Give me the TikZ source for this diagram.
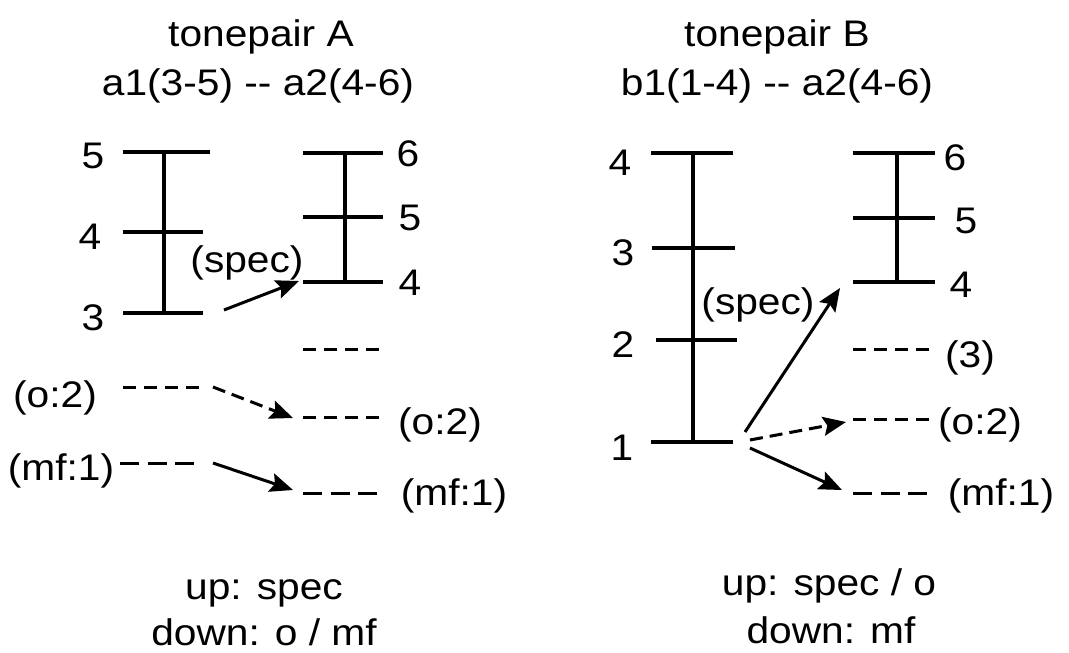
\documentclass[tikz,border=0pt]{standalone}
\usepackage{fontspec}
\setmainfont{Liberation Sans}
\usetikzlibrary{arrows.meta}
\newcommand\sx[1]{\scalebox{1.1}[1]{#1}}
\tikzset{
  lbl/.style={font=\fontsize{37}{44}\selectfont, anchor=base, inner sep=0pt},
  lvl/.style={line width=3.5pt},
  dlvl/.style={line width=3pt, dash pattern=on 13pt off 8pt},
  mlvl/.style={line width=3pt, dash pattern=on 19pt off 8.5pt},
  arr/.style={line width=3pt, -{Stealth[length=23pt,width=19pt,inset=4pt]}},
  darr/.style={arr, dash pattern=on 13pt off 7pt},
}
\begin{document}
\begin{tikzpicture}[x=1pt,y=-1pt]
\useasboundingbox (0,0) rectangle (1069,653);
% titles
\node[lbl] (tA) at (261,46) {\sx{tonepair A}};
\node[lbl] (sA) at (258,95) {\sx{a1(3-5) -{}- a2(4-6)}};
\node[lbl] (tB) at (777,46) {\sx{tonepair B}};
\node[lbl] (sB) at (777,95) {\sx{b1(1-4) -{}- a2(4-6)}};
% bottom
\node[lbl] (uA) at (264,599) {\sx{up: spec}};
\node[lbl] (dA) at (264,645) {\sx{down: o / mf}};
\node[lbl] (uB) at (829,595) {\sx{up: spec / o}};
\node[lbl] (dB) at (831,643) {\sx{down: mf}};

% ---------- tonepair A ----------
% a1
\coordinate (a1t1) at (123,152); \coordinate (a1t2) at (210,152);
\coordinate (a1m1) at (123,232); \coordinate (a1m2) at (203,232);
\coordinate (a1b1) at (123,313); \coordinate (a1b2) at (203,313);
\coordinate (a1vt) at (164,152); \coordinate (a1vb) at (164,313);
\draw[lvl] (a1t1) -- (a1t2);
\draw[lvl] (a1m1) -- (a1m2);
\draw[lvl] (a1b1) -- (a1b2);
\draw[lvl] (a1vt) -- (a1vb);
\node[lbl] (a1l5) at (93,168) {\sx{5}};
\node[lbl] (a1l4) at (90,249) {\sx{4}};
\node[lbl] (a1l3) at (93,330) {\sx{3}};
% a2
\coordinate (a2t1) at (303,153); \coordinate (a2t2) at (383,153);
\coordinate (a2m1) at (303,217); \coordinate (a2m2) at (383,217);
\coordinate (a2b1) at (303,282); \coordinate (a2b2) at (383,282);
\coordinate (a2vt) at (345,153); \coordinate (a2vb) at (345,282);
\draw[lvl] (a2t1) -- (a2t2);
\draw[lvl] (a2m1) -- (a2m2);
\draw[lvl] (a2b1) -- (a2b2);
\draw[lvl] (a2vt) -- (a2vb);
\node[lbl] (a2l6) at (408,166) {\sx{6}};
\node[lbl] (a2l5) at (410,230) {\sx{5}};
\node[lbl] (a2l4) at (410,295) {\sx{4}};
% dashed levels
\coordinate (a2d31) at (303,349); \coordinate (a2d32) at (383,349);
\draw[dlvl] (a2d31) -- (a2d32);
\coordinate (aoL1) at (123,387); \coordinate (aoL2) at (202,387);
\draw[dlvl] (aoL1) -- (aoL2);
\node[lbl] (aoLl) at (55,407) {\sx{(o:2)}};
\coordinate (aoR1) at (303,417); \coordinate (aoR2) at (383,417);
\draw[dlvl] (aoR1) -- (aoR2);
\node[lbl] (aoRl) at (440,434) {\sx{(o:2)}};
\coordinate (amL1) at (120,463); \coordinate (amL2) at (197,463);
\draw[mlvl] (amL1) -- (amL2);
\node[lbl] (amLl) at (61,480) {\sx{(mf:1)}};
\coordinate (amR1) at (303,493); \coordinate (amR2) at (380,493);
\draw[mlvl] (amR1) -- (amR2);
\node[lbl] (amRl) at (454,505) {\sx{(mf:1)}};
% arrows
\coordinate (asS) at (224,310); \coordinate (asE) at (299,281);
\draw[arr] (asS) -- (asE);
\node[lbl] (aspec) at (247,272) {\sx{(spec)}};
\coordinate (aoS) at (213,387); \coordinate (aoE) at (293,418);
\draw[darr] (aoS) -- (aoE);
\coordinate (amS) at (213,463); \coordinate (amE) at (293,490);
\draw[arr] (amS) -- (amE);

% ---------- tonepair B ----------
% b1
\coordinate (b1t1) at (651,153); \coordinate (b1t2) at (733,153);
\coordinate (b13a) at (652,248); \coordinate (b13b) at (735,248);
\coordinate (b12a) at (656,340); \coordinate (b12b) at (737,340);
\coordinate (b11a) at (651,442); \coordinate (b11b) at (733,442);
\coordinate (b1vt) at (693,153); \coordinate (b1vb) at (693,442);
\draw[lvl] (b1t1) -- (b1t2);
\draw[lvl] (b13a) -- (b13b);
\draw[lvl] (b12a) -- (b12b);
\draw[lvl] (b11a) -- (b11b);
\draw[lvl] (b1vt) -- (b1vb);
\node[lbl] (b1l4) at (620,175) {\sx{4}};
\node[lbl] (b1l3) at (623,265) {\sx{3}};
\node[lbl] (b1l2) at (623,357) {\sx{2}};
\node[lbl] (b1l1) at (622,460) {\sx{1}};
% b2 (a2)
\coordinate (b2t1) at (853,153); \coordinate (b2t2) at (935,153);
\coordinate (b2m1) at (853,218); \coordinate (b2m2) at (935,218);
\coordinate (b2b1) at (853,282); \coordinate (b2b2) at (935,282);
\coordinate (b2vt) at (897,153); \coordinate (b2vb) at (897,282);
\draw[lvl] (b2t1) -- (b2t2);
\draw[lvl] (b2m1) -- (b2m2);
\draw[lvl] (b2b1) -- (b2b2);
\draw[lvl] (b2vt) -- (b2vb);
\node[lbl] (b2l6) at (955,170) {\sx{6}};
\node[lbl] (b2l5) at (966,233) {\sx{5}};
\node[lbl] (b2l4) at (961,297) {\sx{4}};
\coordinate (b2d31) at (853,349); \coordinate (b2d32) at (933,349);
\draw[dlvl] (b2d31) -- (b2d32);
\node[lbl] (b2l3) at (970,367) {\sx{(3)}};
\coordinate (boR1) at (853,419); \coordinate (boR2) at (935,419);
\draw[dlvl] (boR1) -- (boR2);
\node[lbl] (boRl) at (980,434) {\sx{(o:2)}};
\coordinate (bmR1) at (853,493); \coordinate (bmR2) at (930,493);
\draw[mlvl] (bmR1) -- (bmR2);
\node[lbl] (bmRl) at (1001,505) {\sx{(mf:1)}};
% arrows
\coordinate (bsS) at (745,432); \coordinate (bsE) at (840,288);
\draw[arr] (bsS) -- (bsE);
\node[lbl] (bspec) at (758,314) {\sx{(spec)}};
\coordinate (boS) at (750,440); \coordinate (boE) at (846,422);
\draw[darr] (boS) -- (boE);
\coordinate (bmS) at (750,448); \coordinate (bmE) at (842,490);
\draw[arr] (bmS) -- (bmE);
\end{tikzpicture}
\end{document}
